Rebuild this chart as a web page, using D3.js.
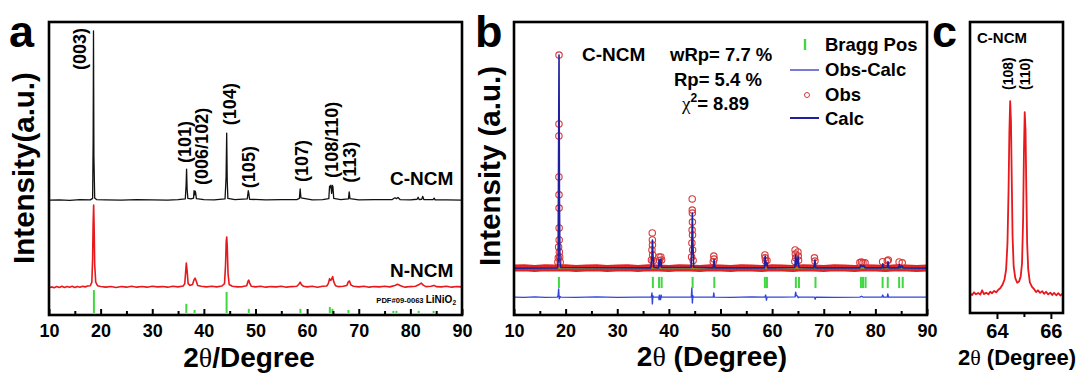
<!DOCTYPE html>
<html><head><meta charset="utf-8">
<script src="https://cdn.jsdelivr.net/npm/d3@7"></script>
<style>
body{margin:0;background:#fff;}
svg{display:block;font-family:"Liberation Sans",Arial,sans-serif;font-weight:bold;}
</style></head><body>
<svg id="c" width="1082" height="376"></svg>
<script>
// ---------------- DATA ----------------
// Panel a: C-NCM (black), intensity above its own baseline (a.u.)
const cncmA = [[10,0.2],[12,0.3],[14,0.1],[16,0.4],[18,0.3],[18.45,0.8],[18.55,20],[18.62,58],[18.7,15],[18.85,0.9],[19.2,0.4],[21,0.3],[24,0.2],[27,0.4],[30,0.3],[33,0.2],[35,0.4],[36.4,0.6],[36.55,5],[36.65,10.8],[36.75,4],[36.9,0.8],[37.5,0.6],[38.0,0.9],[38.1,3.4],[38.2,2],[38.3,3.3],[38.4,2.8],[38.55,0.7],[40,0.4],[42,0.3],[44.1,0.6],[44.3,8],[44.42,23.1],[44.52,7],[44.65,0.8],[46,0.4],[48.4,0.6],[48.6,3.4],[48.7,2.6],[48.85,0.5],[52,0.3],[55,0.4],[58,0.4],[58.5,0.8],[58.65,4.0],[58.8,1.0],[61,0.3],[63,0.4],[64.2,0.7],[64.35,5.0],[64.45,4.5],[64.6,5.3],[64.75,2.5],[64.9,5.2],[65.0,4.8],[65.15,0.8],[66.5,0.4],[68.0,0.6],[68.15,3.0],[68.3,0.7],[70,0.3],[73,0.4],[76.5,0.4],[77.0,1.0],[77.3,0.7],[77.6,1.1],[78,0.4],[80,0.3],[81.3,0.5],[81.5,1.2],[81.7,0.4],[82.2,0.5],[82.4,1.5],[82.6,0.4],[84.4,0.4],[84.6,0.9],[84.8,0.3],[87,0.3],[90,0.2]];
// Panel a: N-NCM (red)
const nncmA = [[10,0.0],[10.5,0.4],[11,0.1],[11.5,0.5],[12,0.2],[12.5,0.6],[13,0.2],[13.5,0.5],[14,0.3],[14.5,0.6],[15,0.2],[15.5,0.5],[16,0.3],[16.5,0.6],[17,0.4],[17.5,0.7],[18,0.8],[18.3,2],[18.45,10],[18.55,22],[18.65,28.3],[18.75,20],[18.85,8],[19.05,2],[19.4,0.8],[20,0.5],[21,0.3],[22,0.5],[23,0.2],[24,0.5],[25,0.3],[26,0.6],[27,0.3],[28,0.5],[29,0.3],[30,0.6],[31,0.4],[32,0.5],[33,0.3],[34,0.6],[35,0.4],[36,0.7],[36.3,1.5],[36.45,5],[36.6,8.5],[36.75,6],[36.95,1.5],[37.3,0.9],[37.8,1.2],[38.1,2.8],[38.3,3.4],[38.5,2.5],[38.8,0.9],[39.5,0.6],[40.5,0.4],[41.5,0.6],[42.5,0.4],[43.5,0.7],[44.0,1.5],[44.2,8],[44.33,16],[44.43,17.4],[44.53,14],[44.68,5],[44.9,1.2],[45.5,0.6],[46.5,0.4],[47.5,0.5],[48.3,0.8],[48.55,2.3],[48.7,2.7],[48.85,1.8],[49.2,0.6],[50,0.4],[51,0.6],[52,0.3],[53,0.5],[54,0.4],[55,0.6],[56,0.3],[57,0.5],[58,0.6],[58.4,1.3],[58.65,2.0],[58.9,1.2],[59.3,0.6],[60,0.4],[61,0.6],[62,0.3],[63,0.6],[63.8,0.7],[64.1,1.5],[64.35,3.2],[64.5,2.6],[64.7,2.8],[64.95,3.9],[65.15,2.2],[65.5,0.8],[66,0.5],[67,0.6],[67.7,0.9],[68.0,2.2],[68.2,2.4],[68.5,1.0],[69,0.6],[70,0.4],[71,0.6],[72,0.3],[73,0.5],[74,0.4],[75,0.6],[76,0.4],[77,0.9],[77.5,1.3],[78,0.9],[78.5,0.5],[79,0.3],[80,0.5],[81,0.6],[81.6,1.1],[82.1,1.7],[82.5,1.0],[83,0.5],[84,0.6],[84.6,0.9],[85,0.5],[86,0.4],[87,0.6],[88,0.3],[89,0.5],[90,0.4]];
// Panel a: reference pattern PDF#09-0063 LiNiO2 (positions, relative intensity %)
const pdfPos = [18.7, 36.6, 38.2, 44.4, 48.7, 58.7, 64.4, 64.9, 68.0, 76.7, 77.3, 81.6, 84.5];
const pdfInt = [100, 40, 13, 92, 18, 18, 26, 18, 13, 9, 9, 9, 9];
// Panel a peak labels
const peakLabels = ["(003)","(101)","(006/102)","(104)","(105)","(107)","(108/110)","(113)"];
const xTicksAB = [10,20,30,40,50,60,70,80,90];
const xMinorAB = [15,25,35,45,55,65,75,85];

// Panel b: Rietveld refinement
const calcB = [[10,16.0],[18.4,16.1],[18.55,18],[18.65,60],[18.72,88.7],[18.8,40],[18.9,18],[19.1,16.2],[36.5,16.1],[36.7,19],[36.82,25.6],[36.95,19],[37.1,16.2],[38.0,16.1],[38.1,18.8],[38.25,16.8],[38.45,19.1],[38.6,16.2],[44.3,16.2],[44.45,25],[44.55,34.8],[44.65,25],[44.8,16.3],[48.6,16.1],[48.75,18.8],[48.9,16.1],[58.5,16.1],[58.65,20.1],[58.8,17.0],[59.0,18.0],[59.15,16.1],[64.4,16.2],[64.55,20.5],[64.75,17],[65.05,19.8],[65.2,16.2],[68.1,16.1],[68.3,18.8],[68.45,16.1],[77.0,16.1],[77.2,17.0],[77.5,16.6],[77.8,16.9],[78.0,16.1],[81.3,16.1],[81.45,17.5],[81.6,16.1],[82.3,16.2],[82.45,18.2],[82.6,16.1],[84.5,16.1],[84.65,17.2],[84.8,16.1],[85.2,16.8],[85.35,16.1],[90,16.0]];
const obsB = [[18.72,88.7],[18.71,65.2],[18.7,61.1],[18.7,47.1],[18.72,41.0],[18.73,36.5],[18.74,29.7],[18.75,25.6],[18.64,23.2],[18.78,21.5],[18.58,19.5],[18.85,19.8],[18.5,18.1],[18.95,18.0],[36.78,28.0],[36.8,25.6],[36.82,23.9],[36.72,22.2],[36.86,20.5],[36.62,18.8],[36.95,18.5],[38.1,19.8],[38.2,18.6],[38.45,19.8],[38.6,18.8],[44.52,39.6],[44.53,35.8],[44.55,34.8],[44.56,31.7],[44.5,29.0],[44.58,27.3],[44.46,24.6],[44.6,22.2],[44.4,19.8],[44.7,18.6],[48.7,20.1],[48.76,19.1],[48.6,18.2],[58.6,20.5],[58.66,19.5],[58.72,18.4],[59.0,18.6],[64.45,22.2],[64.5,20.8],[64.56,19.5],[64.4,18.3],[65.0,21.5],[65.06,20.1],[65.12,18.7],[68.2,19.5],[68.3,18.4],[77.0,17.9],[77.3,18.1],[77.6,17.8],[78.0,17.8],[81.4,18.2],[82.3,18.5],[82.5,18.8],[84.6,18.1],[85.2,17.8]];
const obsBaseB = [[10,16.0],[12,16.1],[14,15.9],[16,16.1],[18,16.0],[20,16.1],[22,15.9],[24,16.0],[26,16.1],[28,15.9],[30,16.0],[32,16.1],[34,15.9],[36,16.1],[38,16.0],[40,15.9],[42,16.1],[44,16.0],[46,15.9],[48,16.1],[50,16.0],[52,15.9],[54,16.1],[56,16.0],[58,15.9],[60,16.1],[62,16.0],[64,15.9],[66,16.1],[68,16.0],[70,15.9],[72,16.1],[74,16.0],[76,15.9],[78,16.1],[80,16.0],[82,15.9],[84,16.1],[86,16.0],[88,15.9],[90,16.0]];
const bkgB = [[10,16.0],[90,16.0]];
const diffB = [[10,6.1],[12,6.0],[14,6.2],[16,6.0],[18.4,6.1],[18.55,6.6],[18.65,8.9],[18.72,6.4],[18.78,5.5],[18.9,6.3],[19.1,6.1],[22,6.0],[26,6.2],[30,6.0],[34,6.1],[36.6,6.1],[36.72,7.5],[36.8,3.8],[36.9,6.6],[37.0,6.1],[38.05,6.1],[38.1,5.2],[38.15,6.8],[38.25,6.1],[38.4,5.3],[38.5,6.8],[38.6,6.1],[42,6.1],[44.35,6.1],[44.45,9.2],[44.55,4.1],[44.65,6.6],[44.75,6.1],[48.6,6.1],[48.7,7.5],[48.8,6.1],[52,6.0],[56,6.2],[58.6,6.1],[58.75,6.8],[58.9,5.1],[59.0,6.1],[62,6.1],[64.45,6.2],[64.55,7.8],[64.7,6.6],[64.9,6.5],[65.05,5.9],[65.2,6.1],[68.2,6.1],[68.35,5.4],[68.45,6.1],[72,6.0],[77.0,6.1],[77.3,6.4],[77.6,6.1],[81.3,6.1],[81.4,6.8],[81.6,6.1],[82.3,6.1],[82.4,7.2],[82.55,6.1],[85,6.1],[90,6.1]];
const braggB = [18.7, 36.9, 38.1, 38.6, 44.6, 48.8, 58.6, 59.0, 64.6, 65.2, 68.4, 77.2, 77.6, 78.1, 81.4, 82.4, 84.6, 85.3];
const legendB = ["Bragg Pos","Obs-Calc","Obs","Calc"];
const statsB = ["wRp= 7.7 %","Rp= 5.4 %","= 8.89"];

// Panel c: (108)/(110) doublet
const cncmC = [[63.0,6.7],[63.08,6.2],[63.15,7.1],[63.22,6.4],[63.3,6.9],[63.38,6.3],[63.45,7.8],[63.52,6.5],[63.6,7.0],[63.68,6.4],[63.75,7.3],[63.82,6.8],[63.9,7.6],[63.97,7.1],[64.05,8.0],[64.12,8.5],[64.2,9.6],[64.28,11.5],[64.34,15],[64.39,24],[64.43,42],[64.46,62],[64.49,72.8],[64.52,66],[64.55,45],[64.58,26],[64.62,16],[64.68,12],[64.75,10.4],[64.82,10.8],[64.88,12.5],[64.93,17],[64.97,32],[65.0,55],[65.03,69],[65.06,63],[65.09,42],[65.12,24],[65.16,15],[65.22,10.5],[65.3,9.0],[65.38,8.2],[65.45,7.2],[65.52,7.8],[65.6,6.9],[65.68,7.5],[65.75,6.6],[65.82,7.3],[65.9,6.4],[65.98,7.0],[66.05,6.2],[66.12,6.9],[66.2,6.1],[66.28,6.8],[66.35,6.0],[66.42,6.6],[66.45,6.3]];
const cLabels = ["(108)","(110)"];
const xTicksC = [64, 66];
const xMinorC = [65];

// ---------------- DRAWING ----------------
const svg = d3.select("#c");
const FONT = "'Liberation Sans', Arial, sans-serif";
const RED = "#e8181c", GREEN = "#40d840", DARKBLUE = "#1f1fa0", LBLUE = "#3344dd";

const xA = d3.scaleLinear([10,90],[49,462]);
const yA = d3.scaleLinear([0,100],[315,22]);
const xB = d3.scaleLinear([10,90],[514,927]);
const yB = d3.scaleLinear([0,100],[315,22]);
const xC = d3.scaleLinear([63,66.45],[970,1063]);
const yC = d3.scaleLinear([0,100],[313,22]);

function bottomAxis(x, y0, major, minor, inward, fs, pad) {
  const g = svg.append("g").attr("transform", `translate(0,${y0})`);
  g.call(d3.axisBottom(x).tickValues(major).tickSize(inward ? -6 : 6).tickPadding(pad).tickFormat(d => String(d)));
  g.select(".domain").remove();
  g.selectAll(".tick line").attr("stroke", "#000").attr("stroke-width", 2);
  g.selectAll(".tick text").attr("font-family", FONT).attr("font-weight", "bold").attr("font-size", fs).attr("fill", "#000");
  const m = svg.append("g").attr("transform", `translate(0,${y0})`);
  m.call(d3.axisBottom(x).tickValues(minor).tickSize(inward ? -4 : 4).tickFormat(""));
  m.select(".domain").remove();
  m.selectAll(".tick line").attr("stroke", "#000").attr("stroke-width", 2);
}
function frame(x, y) {
  svg.append("rect").attr("x", x.range()[0]).attr("y", y.range()[1])
    .attr("width", x.range()[1] - x.range()[0]).attr("height", y.range()[0] - y.range()[1])
    .attr("fill", "none").attr("stroke", "#000").attr("stroke-width", 2.6);
}
function txt(x, y, s, fs, opts = {}) {
  return svg.append("text").attr("x", x).attr("y", y).text(s)
    .attr("font-family", FONT).attr("font-weight", opts.weight || "bold")
    .attr("font-size", fs).attr("fill", opts.fill || "#000")
    .attr("text-anchor", opts.anchor || "start");
}
function vtxt(x, y, s, fs, anchor) {
  return svg.append("text").attr("transform", `translate(${x},${y}) rotate(-90)`)
    .text(s).attr("font-family", FONT).attr("font-weight", "bold")
    .attr("font-size", fs).attr("text-anchor", anchor || "start").attr("fill", "#000");
}
function thetaLabel(cx, y, rest, fs) {
  const t = svg.append("text").attr("x", cx).attr("y", y).attr("text-anchor", "middle")
    .attr("font-family", FONT).attr("font-weight", "bold").attr("font-size", fs);
  t.append("tspan").text("2");
  t.append("tspan").text("θ").attr("font-family", "'Liberation Serif', 'DejaVu Serif', serif").attr("font-weight", "normal");
  t.append("tspan").text(rest);
}

// ---- Panel a ----
const offC = 39.0, offN = 9.2, pdfBase = 0.7, pdfScale = 7.8 / 100;
const lineA = off => d3.line().x(d => xA(d[0])).y(d => yA(d[1] + off));
svg.append("path").datum(nncmA).attr("d", lineA(offN)).attr("fill", "none").attr("stroke", RED).attr("stroke-width", 1.6).attr("stroke-linejoin", "round");
svg.append("path").datum(cncmA).attr("d", lineA(offC)).attr("fill", "none").attr("stroke", "#111").attr("stroke-width", 1.3).attr("stroke-linejoin", "round");
svg.selectAll(".pdf").data(pdfPos).enter().append("line")
  .attr("x1", d => xA(d)).attr("x2", d => xA(d))
  .attr("y1", yA(pdfBase)).attr("y2", (d, i) => yA(pdfBase + pdfInt[i] * pdfScale))
  .attr("stroke", GREEN).attr("stroke-width", 2);
frame(xA, yA);
bottomAxis(xA, 315, xTicksAB, xMinorAB, true, 18, 9);
// peak labels: [2θ anchor, bottom of text in a.u.]
const labPos = [[16.0,83.6],[36.3,51.9],[39.6,44.4],[44.9,64.8],[48.7,43.3],[59.0,45.4],[64.8,46.8],[68.3,45.1]];
peakLabels.forEach((s, i) => vtxt(xA(labPos[i][0]) + 6.5, yA(labPos[i][1]), s, 18));
txt(390, 185, "C-NCM", 19);
txt(390, 277, "N-NCM", 19);
{
  const t = svg.append("text").attr("x", 456).attr("y", 303).attr("text-anchor", "end")
    .attr("font-family", FONT).attr("font-weight", "bold").attr("fill", "#000");
  t.append("tspan").text("PDF#09-0063 ").attr("font-size", 7.6);
  t.append("tspan").text("LiNiO").attr("font-size", 10);
  t.append("tspan").text("2").attr("font-size", 6.5).attr("dy", 2);
}
vtxt(34, 168, "Intensity(a.u.)", 29.5, "middle");
thetaLabel(249, 367, "/Degree", 28);
txt(9, 47, "a", 45);

// ---- Panel b ----
const lineB = d3.line().x(d => xB(d[0])).y(d => yB(d[1]));
svg.append("path").datum(obsBaseB).attr("d", lineB).attr("fill", "none").attr("stroke", "#e02222").attr("stroke-width", 7);
svg.append("path").datum(obsBaseB).attr("d", lineB).attr("fill", "none").attr("stroke", "#f03030").attr("stroke-width", 3.5).attr("stroke-dasharray", "2 1.5");
svg.append("path").datum(bkgB).attr("d", lineB).attr("fill", "none").attr("stroke", "#8c9124").attr("stroke-width", 1.6);
svg.selectAll(".obs").data(obsB).enter().append("circle")
  .attr("cx", d => xB(d[0])).attr("cy", d => yB(d[1])).attr("r", 3.2)
  .attr("fill", "none").attr("stroke", "#d83a3a").attr("stroke-width", 1.1);
svg.append("path").datum(calcB).attr("d", lineB).attr("fill", "none").attr("stroke", DARKBLUE).attr("stroke-width", 1.6).attr("stroke-linejoin", "round");
svg.append("path").datum(diffB).attr("d", lineB).attr("fill", "none").attr("stroke", LBLUE).attr("stroke-width", 1.4).attr("stroke-linejoin", "round");
svg.selectAll(".bragg").data(braggB).enter().append("line")
  .attr("x1", d => xB(d)).attr("x2", d => xB(d)).attr("y1", yB(13.0)).attr("y2", yB(9.2))
  .attr("stroke", GREEN).attr("stroke-width", 2);
frame(xB, yB);
bottomAxis(xB, 315, xTicksAB, xMinorAB, true, 18, 9);
// legend
svg.append("line").attr("x1", 805).attr("x2", 805).attr("y1", 39).attr("y2", 50).attr("stroke", GREEN).attr("stroke-width", 2.4);
svg.append("line").attr("x1", 790).attr("x2", 819).attr("y1", 70).attr("y2", 70).attr("stroke", "#4c4cc8").attr("stroke-width", 1.5);
svg.append("circle").attr("cx", 807).attr("cy", 95).attr("r", 2.5).attr("fill", "none").attr("stroke", "#d83a3a").attr("stroke-width", 1);
svg.append("line").attr("x1", 790).attr("x2", 819).attr("y1", 118).attr("y2", 118).attr("stroke", DARKBLUE).attr("stroke-width", 2);
[51, 76, 101, 125].forEach((y, i) => txt(825, y, legendB[i], 18.5));
txt(582, 61, "C-NCM", 19);
txt(670, 61, statsB[0], 18.5);
txt(674, 86, statsB[1], 18.5);
{
  const t = svg.append("text").attr("x", 682).attr("y", 110).attr("font-family", FONT).attr("font-weight", "bold").attr("font-size", 18.5);
  t.append("tspan").text("χ").attr("font-family", "'Liberation Serif', serif").attr("font-weight", "normal").attr("font-size", 19);
  t.append("tspan").text("2").attr("font-size", 12).attr("dy", -8);
  t.append("tspan").text(statsB[2]).attr("dy", 8);
}
vtxt(500, 166, "Intensity (a.u.)", 29.5, "middle");
thetaLabel(712, 366, " (Degree)", 28);
txt(475, 47, "b", 45);

// ---- Panel c ----
const lineC = d3.line().x(d => xC(d[0])).y(d => yC(d[1]));
svg.append("path").datum(cncmC).attr("d", lineC).attr("fill", "none").attr("stroke", RED).attr("stroke-width", 1.8).attr("stroke-linejoin", "round");
frame(xC, yC);
bottomAxis(xC, 313, xTicksC, xMinorC, false, 20, 5);
txt(977, 43, "C-NCM", 15);
vtxt(1013, 90, cLabels[0], 14);
vtxt(1030, 90, cLabels[1], 14);
thetaLabel(1017, 365, " (Degree)", 22);
txt(932, 47, "c", 45);
</script>
</body></html>
